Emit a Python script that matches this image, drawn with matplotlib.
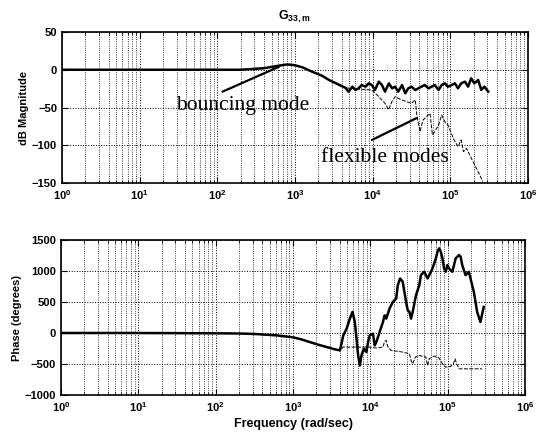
import numpy as np
import matplotlib.pyplot as plt
from matplotlib.ticker import LogLocator, FixedLocator

plt.rcParams['font.family'] = 'Liberation Sans'
plt.rcParams['mathtext.default'] = 'regular'

# shared low-frequency part (both curves coincide), log10(rad/s)
log_common = [0.0, 1.0, 2.0, 2.3, 2.6, 2.8, 2.9, 3.0, 3.1, 3.22, 3.35, 3.44, 3.55, 3.65]
mag_common = [0.0, 0.0, 0.0, 0.0, 2.0, 5.5, 7.0, 6.0, 3.0, -2.5, -8.0, -13.6, -19.0, -24.0]

# measured magnitude (thick, noisy above ~5e3 rad/s)
log_meas_mag = [3.65, 3.69, 3.74, 3.78, 3.82, 3.86, 3.91, 3.95, 3.99, 4.03, 4.08,
                4.12, 4.16, 4.21, 4.25, 4.29, 4.33, 4.38, 4.42, 4.46, 4.50, 4.55,
                4.59, 4.63, 4.67, 4.72, 4.76, 4.80, 4.85, 4.89, 4.93, 4.97, 5.02,
                5.06, 5.10, 5.14, 5.19, 5.23, 5.27, 5.31, 5.36, 5.40, 5.44, 5.49]
meas_mag = [-24.6, -29.0, -22.4, -26.8, -24.6, -20.2, -22.4, -18.0, -20.2, -26.8, -15.8,
            -20.2, -29.0, -18.0, -24.6, -22.4, -29.0, -20.2, -31.2, -24.6, -22.4, -26.8,
            -24.6, -22.4, -20.2, -24.6, -22.4, -20.2, -26.8, -20.2, -18.0, -22.4, -20.2,
            -18.0, -24.6, -18.0, -15.8, -22.4, -11.4, -18.0, -13.6, -26.8, -22.4, -29.0]

# model magnitude (thin, flexible modes)
log_model_mag = [3.65, 3.8, 3.99, 4.08, 4.16, 4.205, 4.25, 4.29, 4.375, 4.50, 4.55,
                 4.57, 4.61, 4.65, 4.74, 4.77, 4.80, 4.85, 4.89, 4.93, 4.97, 5.04,
                 5.10, 5.14, 5.17, 5.21, 5.27, 5.36, 5.42]
model_mag = [-24.0, -25.5, -26.8, -35.7, -44.5, -53.0, -42.0, -35.7, -40.0, -44.5, -40.0,
             -60.0, -82.0, -66.5, -57.7, -86.0, -82.0, -73.0, -60.0, -68.7, -73.0, -91.0,
             -102.0, -93.0, -108.5, -104.0, -117.0, -135.0, -148.0]

# phase, shared part
log_phase_common = [0.0, 1.0, 2.0, 2.3, 2.5, 2.795, 2.9, 3.0, 3.1, 3.22, 3.33, 3.44, 3.53, 3.607]
phase_common = [0.0, 0.0, -5.0, -8.0, -15.0, -39.0, -55.0, -70.0, -100.0, -147.0, -190.0, -228.0, -260.0, -281.0]

log_meas_ph = [3.607, 3.650, 3.693, 3.735, 3.769, 3.799, 3.821, 3.842, 3.864, 3.885,
               3.915, 3.949, 3.970, 3.992, 4.034, 4.056, 4.077, 4.120, 4.163, 4.184,
               4.205, 4.248, 4.291, 4.334, 4.355, 4.385, 4.419, 4.440, 4.462, 4.483,
               4.505, 4.526, 4.547, 4.590, 4.633, 4.654, 4.697, 4.740, 4.761, 4.804,
               4.847, 4.868, 4.889, 4.911, 4.932, 4.953, 4.975, 4.996, 5.017, 5.060,
               5.103, 5.146, 5.167, 5.188, 5.231, 5.274, 5.295, 5.338, 5.381, 5.423, 5.466]
meas_ph = [-281, -38, 70, 232, 340, 178, -92, -362, -524, -362,
           -254, -308, -146, -38, -11, -200, -146, 16, 178, 286,
           232, 394, 502, 556, 772, 880, 826, 664, 502, 367,
           340, 232, 340, 610, 772, 934, 988, 880, 934, 1042,
           1204, 1312, 1366, 1312, 1204, 1042, 988, 1096, 1042, 988,
           1204, 1258, 1231, 1096, 934, 988, 880, 664, 340, 178, 421]

log_model_ph = [3.607, 3.650, 3.864, 3.992, 4.077, 4.163, 4.184, 4.205, 4.227, 4.270,
                4.419, 4.505, 4.526, 4.547, 4.582, 4.633, 4.718, 4.740, 4.761, 4.825,
                4.889, 4.932, 4.975, 5.039, 5.073, 5.095, 5.116, 5.146, 5.445]
model_ph = [-281, -227, -227, -227, -243, -227, -135, -119, -227, -281,
            -308, -335, -443, -497, -389, -362, -389, -524, -416, -373,
            -405, -497, -551, -540, -497, -416, -497, -578, -578]

f_meas_mag = 10 ** np.array(log_common + log_meas_mag[1:])
y_meas_mag = mag_common + meas_mag[1:]
f_model_mag = 10 ** np.array(log_common + log_model_mag[1:])
y_model_mag = mag_common + model_mag[1:]
f_meas_ph = 10 ** np.array(log_phase_common + log_meas_ph[1:])
y_meas_ph = phase_common + meas_ph[1:]
f_model_ph = 10 ** np.array(log_phase_common + log_model_ph[1:])
y_model_ph = phase_common + model_ph[1:]

fig = plt.figure(figsize=(5.38, 4.34), dpi=100)
ax1 = fig.add_axes([0.1152, 0.5783, 0.866, 0.348])
ax2 = fig.add_axes([0.1134, 0.0899, 0.8625, 0.357])

thin = dict(color='black', lw=0.7, linestyle=(0, (4, 1.5)))
thick = dict(color='black', lw=1.8)

ax1.plot(f_model_mag, y_model_mag, **thin)
ax1.plot(f_meas_mag, y_meas_mag, **thick)
ax2.plot(f_model_ph, y_model_ph, **thin)
ax2.plot(f_meas_ph, y_meas_ph, **thick)

for ax in (ax1, ax2):
    ax.set_xscale('log')
    ax.set_xlim(1, 1e6)
    ax.xaxis.set_major_locator(LogLocator(base=10, numticks=10))
    ax.xaxis.set_minor_locator(LogLocator(base=10, subs=np.arange(2, 10), numticks=20))
    ax.grid(True, which='major', color='black', linestyle=':', lw=0.7)
    ax.grid(True, which='minor', axis='x', color='black', linestyle=':', lw=0.6)
    ax.tick_params(which='both', direction='in', top=True, right=True, labelsize=8)
    ax.tick_params(which='major', length=4)
    ax.tick_params(which='minor', length=2)
    for s in ax.spines.values():
        s.set_linewidth(1.2)
    for lab in ax.get_xticklabels() + ax.get_yticklabels():
        lab.set_fontweight('bold')

ax1.set_ylim(-150, 50)
ax1.yaxis.set_major_locator(FixedLocator([-150, -100, -50, 0, 50]))
ax1.set_ylabel('dB Magnitude', fontsize=8, fontweight='bold', labelpad=2)
ax1.set_title('$G_{33,m}$', fontsize=9, fontweight='bold', pad=9)

ax2.set_ylim(-1000, 1500)
ax2.yaxis.set_major_locator(FixedLocator([-1000, -500, 0, 500, 1000, 1500]))
ax2.set_ylabel('Phase (degrees)', fontsize=8, fontweight='bold', labelpad=2)
ax2.set_xlabel('Frequency (rad/sec)', fontsize=9, fontweight='bold', labelpad=3)

# annotations
serif = dict(fontsize=15.5, family='Liberation Serif', ha='left', va='baseline')
line = dict(arrowstyle='-', lw=1.6, color='black', shrinkA=0, shrinkB=0)
ax1.text(29.6, -53.3, 'bouncing mode', **serif)
ax1.annotate('', xy=(624, 4), xytext=(117, -29), arrowprops=line)
ax1.text(2150, -122, 'flexible modes', **serif)
ax1.annotate('', xy=(3.7e4, -64), xytext=(9800, -93), arrowprops=line)

fig.savefig('out.png', dpi=100)
